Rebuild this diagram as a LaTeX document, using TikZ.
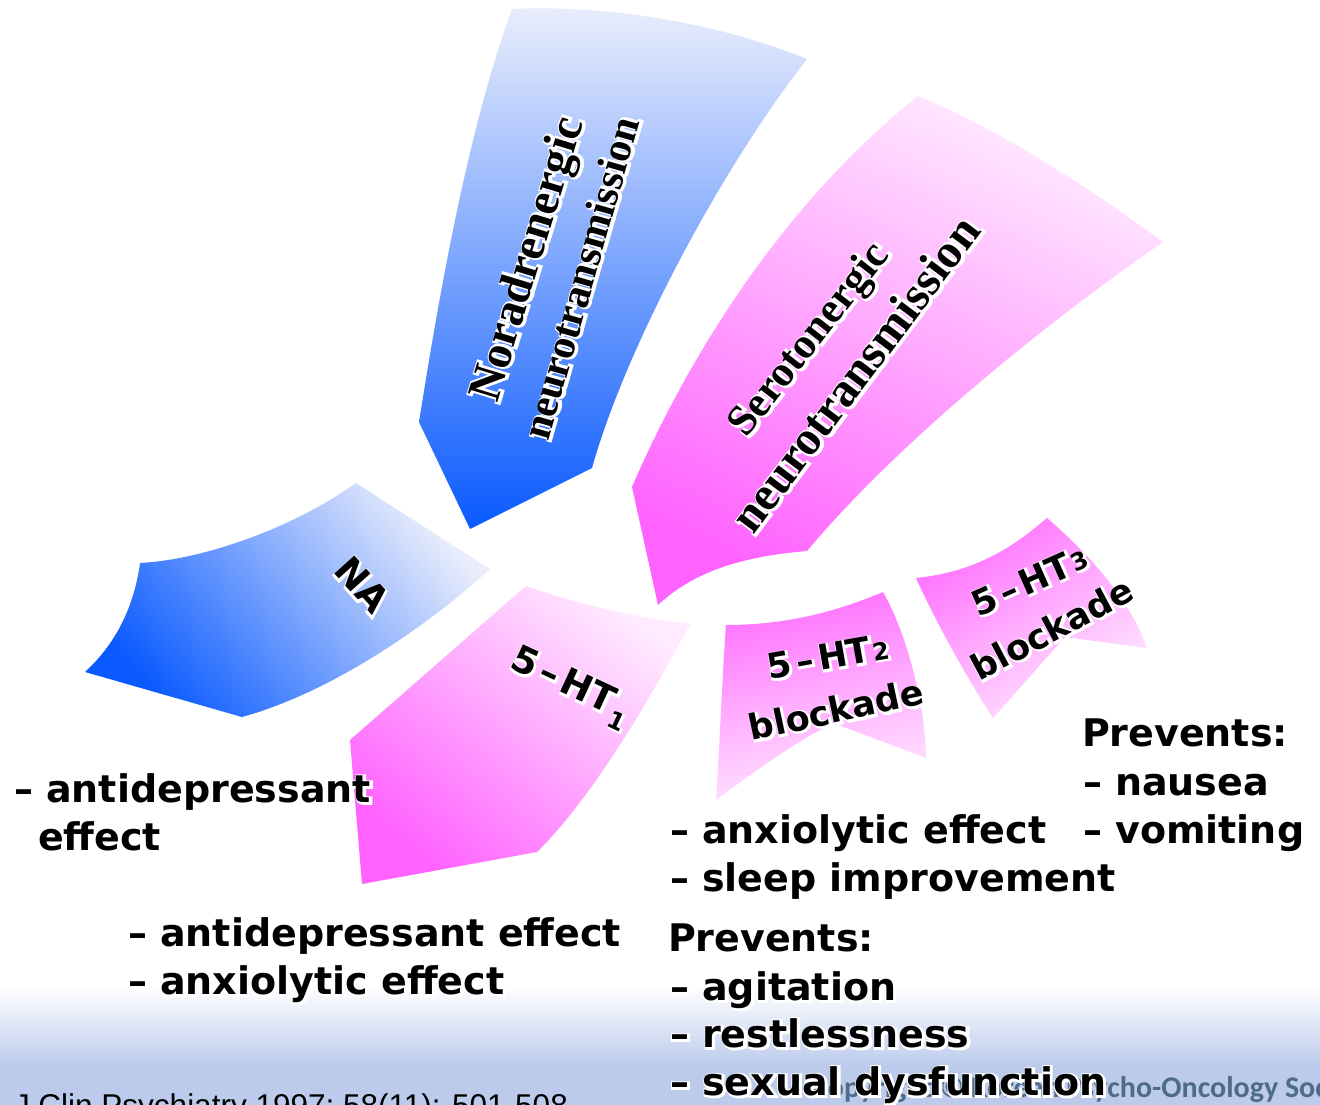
\documentclass[tikz,border=0pt]{standalone}
\usepackage{fontspec}
\setmainfont{DejaVu Sans}
\newfontfamily\lblfont{DejaVu Sans Bold}
\newfontfamily\lblhalo{DejaVu Sans Bold}[FakeBold=10]
\newfontfamily\titlefont{Liberation Serif Bold}
\newfontfamily\titlehalo{Liberation Serif Bold}[FakeBold=10]
\newfontfamily\citefont{Liberation Sans}
\newfontfamily\copyfont{Carlito}

\definecolor{bluedeep}{RGB}{10,90,255}
\definecolor{bluepale}{RGB}{234,238,252}
\definecolor{pinkdeep}{RGB}{255,98,255}
\definecolor{pinkpale}{RGB}{255,234,255}
\definecolor{bandblue}{RGB}{188,203,236}
\definecolor{copyblue}{RGB}{78,108,138}

% white glow behind a line of text: an emboldened white copy, nudged down-right
\newcommand\haloface{\lblhalo}
\newcommand\halo[1]{\leavevmode
  \rlap{\kern1pt\raisebox{-1pt}{\haloface\textcolor{white}{#1}}}#1}
% small receptor index, with its own vertical shift
\newcommand\idx[2]{\kern2pt\raisebox{#2}{\fontsize{24}{24}\selectfont#1}}
\newcommand\fiveHT{5\kern.14em–\kern.14em HT}

\tikzset{
  every node/.style={inner sep=0pt, outer sep=0pt},
  sansface/.style={font=\lblfont\renewcommand\haloface{\lblhalo}\fontsize{#1}{48}\selectfont},
  serifface/.style={font=\titlefont\renewcommand\haloface{\titlehalo}\fontsize{#1}{50}\selectfont},
  effect/.style={sansface=38, anchor=base west},
  receptor/.style={sansface=37, anchor=center},
  blockade/.style={sansface=35, anchor=center},
  pathway/.style={anchor=center},
}

\begin{document}
\begin{tikzpicture}[x=1pt,y=-1pt]
\useasboundingbox (0,0) rectangle (1320,1105);
\fill[white] (0,0) rectangle (1320,1105);

% pale blue band along the bottom
\shade[top color=white, bottom color=bandblue] (0,986) rectangle (1320,1066);
\fill[bandblue] (0,1065.5) rectangle (1320,1105);

% noradrenergic arm
\shade[top color=bluepale, bottom color=bluedeep]
  (512,9) .. controls (600,5) and (710,20) .. (807,59)
  .. controls (720,170) and (625,350) .. (592,468)
  -- (470,529) -- (419,422)
  .. controls (440,290) and (468,130) .. (512,9) -- cycle;

% NA arm
\shade[top color=bluepale, bottom color=bluedeep, shading angle=-50]
  (140,563) .. controls (200,560) and (290,530) .. (356,483)
  -- (490,569)
  .. controls (440,615) and (340,690) .. (242,717)
  -- (85,672)
  .. controls (120,640) and (135,600) .. (140,563) -- cycle;

% serotonergic arm
\shade[top color=pinkpale, bottom color=pinkdeep, shading angle=-25]
  (918,96) .. controls (1000,130) and (1085,185) .. (1163,242)
  .. controls (1050,320) and (900,440) .. (807,551)
  .. controls (760,555) and (700,565) .. (658,605)
  -- (632,487)
  .. controls (700,330) and (800,190) .. (918,96) -- cycle;

% 5-HT1 arm
\shade[top color=pinkpale, bottom color=pinkdeep, shading angle=-40]
  (526,586) .. controls (580,605) and (640,618) .. (690,624)
  .. controls (655,690) and (595,795) .. (537,852)
  -- (362,884) -- (350,740) -- cycle;

% 5-HT2 arm
\shade[top color=pinkdeep!92!white, bottom color=pinkpale, shading angle=12]
  (726,625) .. controls (790,625) and (840,610) .. (883,592)
  .. controls (905,630) and (925,700) .. (926,758)
  -- (833,723)
  .. controls (790,745) and (750,775) .. (716,800)
  .. controls (720,740) and (722,680) .. (726,625) -- cycle;

% 5-HT3 arm
\shade[top color=pinkdeep!92!white, bottom color=pinkpale, shading angle=32]
  (916,578) .. controls (975,572) and (1012,548) .. (1047,518)
  .. controls (1090,555) and (1130,600) .. (1147,648)
  -- (1065,637) -- (993,718)
  .. controls (965,675) and (935,620) .. (916,578) -- cycle;

% pathway titles
\node[pathway, rotate=73, serifface=47] (nor1) at (530,260) {\halo{Noradrenergic}};
\node[pathway, rotate=74, serifface=42] (nor2) at (581,278) {\halo{neurotransmission}};
\node[pathway, rotate=52, serifface=43] (ser1) at (811,341) {\halo{Serotonergic}};
\node[pathway, rotate=53, serifface=48] (ser2) at (855,374) {\halo{neurotransmission}};

% receptor labels
\node[receptor, rotate=-48] (na) at (362,585) {\halo{NA}};
\node[receptor, rotate=-25] (ht1) at (570,688) {\halo{\fiveHT\idx{1}{-0.3em}}};
\node[blockade, rotate=10] (ht2a) at (828,657) {\halo{\fiveHT\idx{2}{0em}}};
\node[blockade, rotate=12] (ht2b) at (836,710) {\halo{blockade}};
\node[blockade, rotate=24] (ht3a) at (1030,581) {\halo{\fiveHT\idx{3}{0.03em}}};
\node[blockade, rotate=28] (ht3b) at (1052,629) {\halo{blockade}};

% effects of NA
\node[effect] (naA) at (14,802) {\halo{– antidepressant}};
\node[effect] (naB) at (38,850) {\halo{effect}};

% effects of 5-HT1
\node[effect] (htA) at (128,946) {\halo{– antidepressant effect}};
\node[effect] (htB) at (128,994) {\halo{– anxiolytic effect}};

% copyright line, under the last effect
\node[anchor=base west, font=\copyfont\bfseries\fontsize{30}{32}\selectfont,
      text=copyblue] (copy) at (812,1097) {Copyright © Korean Psycho-Oncology Society};

% effects of 5-HT2 blockade
\node[effect] (bA) at (670,843) {\halo{– anxiolytic effect}};
\node[effect] (bB) at (670,891) {\halo{– sleep improvement}};
\node[effect] (bC) at (668,951) {\halo{Prevents:}};
\node[effect] (bD) at (670,1000) {\halo{– agitation}};
\node[effect] (bE) at (670,1047) {\halo{– restlessness}};
\node[effect] (bF) at (670,1095) {\halo{– sexual dysfunction}};

% effects of 5-HT3 blockade
\node[effect] (cA) at (1082,746) {\halo{Prevents:}};
\node[effect] (cB) at (1083,795) {\halo{– nausea}};
\node[effect] (cC) at (1083,843) {\halo{– vomiting}};

% reference
\node[anchor=base west, font=\citefont\fontsize{31.5}{34}\selectfont] (cite)
  at (14,1116) {J Clin Psychiatry 1997; 58(11): 501-508};
\end{tikzpicture}
\end{document}
